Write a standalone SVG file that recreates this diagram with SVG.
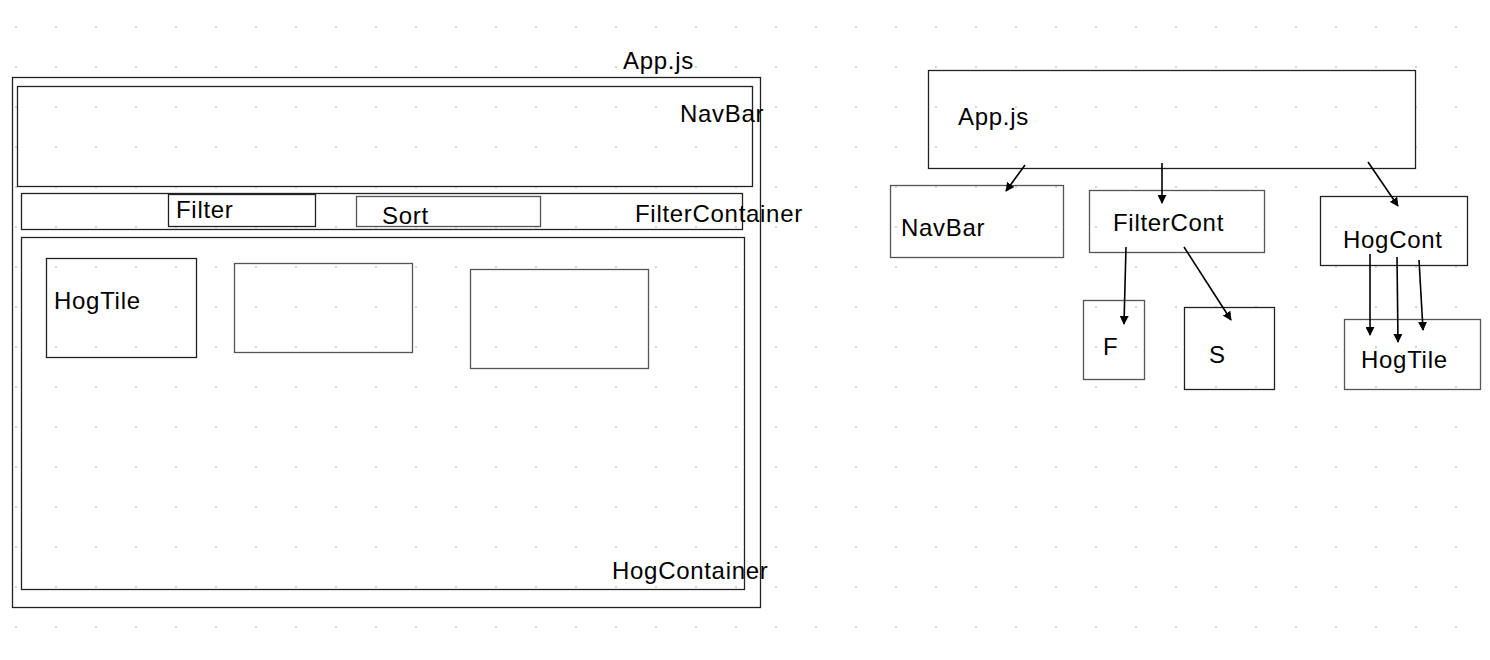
<svg xmlns="http://www.w3.org/2000/svg" width="1490" height="660" viewBox="0 0 1490 660">
<defs>
<pattern id="dots" x="15" y="26" width="40" height="40" patternUnits="userSpaceOnUse">
<rect x="0" y="0" width="2" height="2" fill="#d4d4d4"/>
</pattern>
<marker id="ah" viewBox="0 0 10 10" refX="9" refY="5" markerWidth="9" markerHeight="9" markerUnits="userSpaceOnUse" orient="auto">
<path d="M0,0 L10,5 L0,10 z" fill="#000"/>
</marker>
<style>
.b{fill:none;stroke:#222;stroke-width:1.3}
.g{fill:none;stroke:#555;stroke-width:1.3}
.t{font-family:"Liberation Sans",Arial,sans-serif;font-size:24px;letter-spacing:0.7px;fill:#000}
.c{stroke:#000;stroke-width:1.6;fill:none;marker-end:url(#ah)}
</style>
</defs>
<rect width="1490" height="660" fill="#fff"/>
<rect width="1490" height="660" fill="url(#dots)"/>

<g id="mockup-app">
<rect class="b" x="12.5" y="77.5" width="748" height="530"/>
<text class="t" x="623" y="69">App.js</text>
</g>
<g id="mockup-navbar">
<rect class="b" x="17.5" y="86.5" width="735" height="100"/>
<text class="t" x="680" y="122">NavBar</text>
</g>
<g id="mockup-filtercontainer">
<rect class="b" x="21.5" y="193.5" width="721" height="36"/>
<text class="t" x="635" y="222">FilterContainer</text>
</g>
<g id="mockup-filter">
<rect class="b" x="168.5" y="194.5" width="147" height="32"/>
<text class="t" x="176" y="218">Filter</text>
</g>
<g id="mockup-sort">
<rect class="g" x="356.5" y="196.5" width="184" height="30"/>
<text class="t" x="382" y="224">Sort</text>
</g>
<g id="mockup-hogcontainer">
<rect class="b" x="21.5" y="237.5" width="723" height="352"/>
<text class="t" x="612" y="579">HogContainer</text>
</g>
<g id="mockup-hogtile">
<rect class="b" x="46.5" y="258.5" width="150" height="99"/>
<text class="t" x="54" y="309">HogTile</text>
</g>
<g id="mockup-tile2">
<rect class="g" x="234.5" y="263.5" width="178" height="89"/>
</g>
<g id="mockup-tile3">
<rect class="g" x="470.5" y="269.5" width="178" height="99"/>
</g>

<g id="tree-app">
<rect class="b" x="928.5" y="70.5" width="487" height="98"/>
<text class="t" x="958" y="125">App.js</text>
</g>
<g id="tree-navbar">
<rect class="g" x="890.5" y="185.5" width="173" height="72"/>
<text class="t" x="901" y="236">NavBar</text>
</g>
<g id="tree-filtercont">
<rect class="g" x="1089.5" y="190.5" width="175" height="62"/>
<text class="t" x="1113" y="231">FilterCont</text>
</g>
<g id="tree-f">
<rect class="g" x="1083.5" y="300.5" width="61" height="79"/>
<text class="t" x="1103" y="355">F</text>
</g>
<g id="tree-s">
<rect class="b" x="1184.5" y="307.5" width="90" height="82"/>
<text class="t" x="1209" y="363">S</text>
</g>
<g id="tree-hogcont">
<rect class="b" x="1320.5" y="196.5" width="147" height="69"/>
<text class="t" x="1343" y="248">HogCont</text>
</g>
<g id="tree-hogtile">
<rect class="g" x="1344.5" y="319.5" width="136" height="70"/>
<text class="t" x="1361" y="368">HogTile</text>
</g>

<g id="connectors">
<line class="c" x1="1025" y1="165" x2="1006" y2="191"/>
<line class="c" x1="1162" y1="163" x2="1162" y2="203"/>
<line class="c" x1="1368" y1="162" x2="1398" y2="206"/>
<line class="c" x1="1126" y1="247" x2="1124" y2="324"/>
<line class="c" x1="1184" y1="247" x2="1231" y2="320"/>
<line class="c" x1="1370" y1="254" x2="1370" y2="335"/>
<line class="c" x1="1397" y1="257" x2="1398" y2="342"/>
<line class="c" x1="1419" y1="260" x2="1423" y2="330"/>
</g>
</svg>
